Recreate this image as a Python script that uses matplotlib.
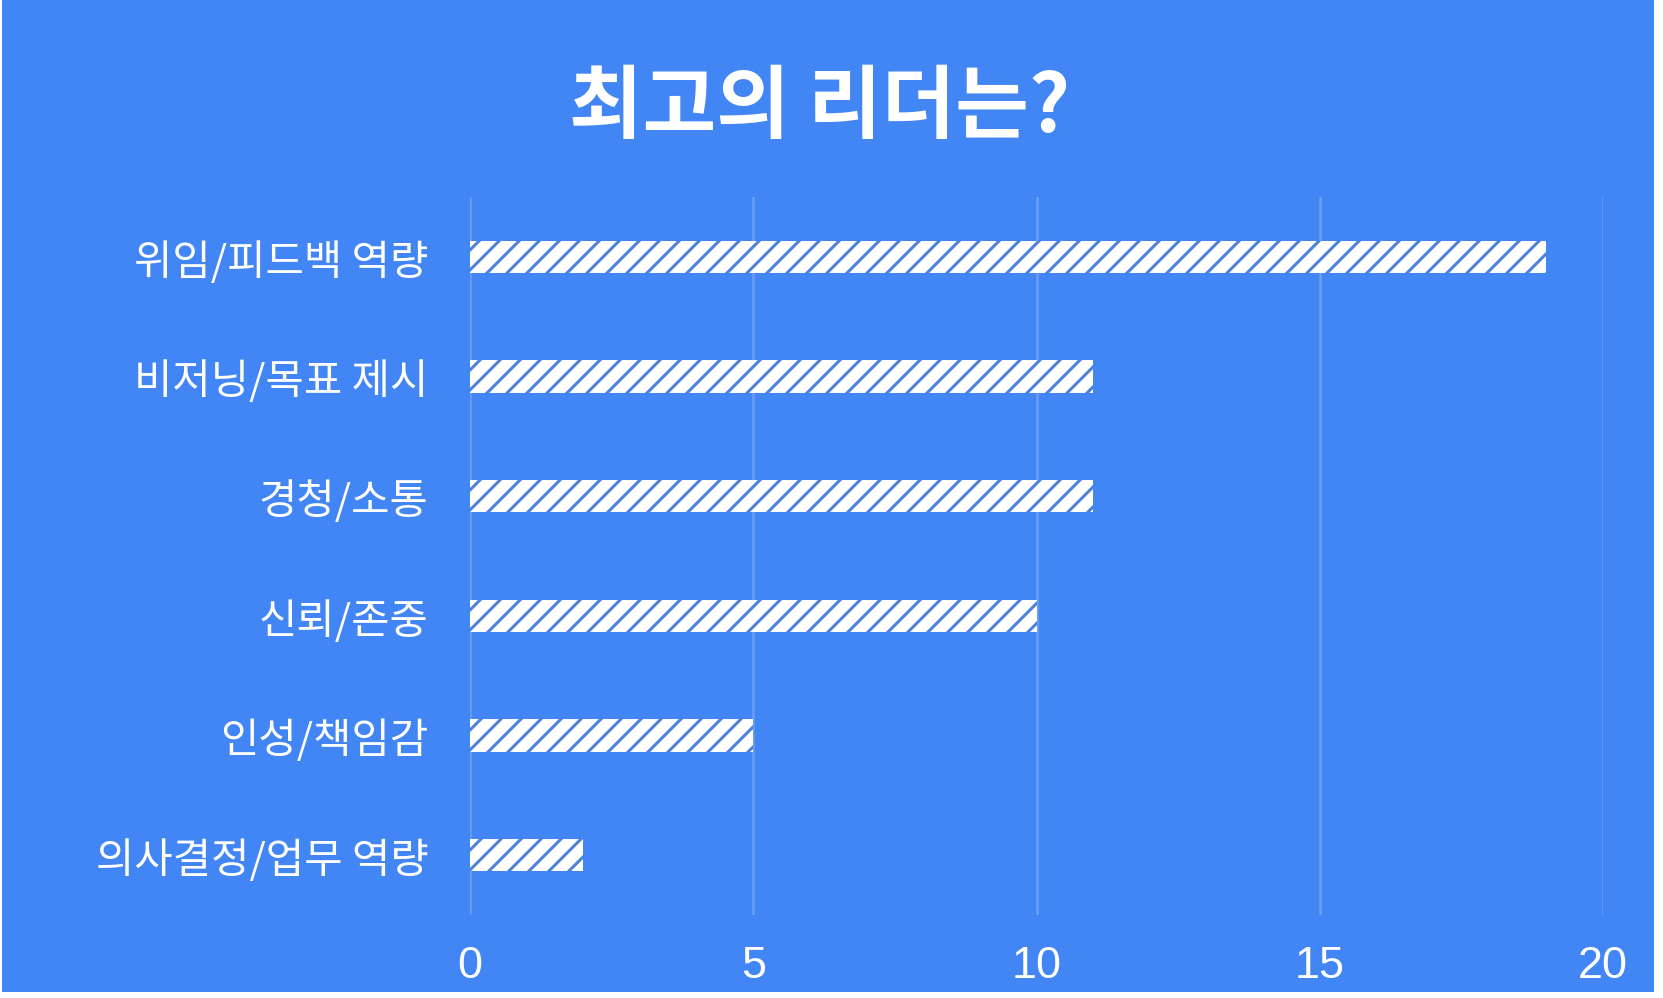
import matplotlib.pyplot as plt
from matplotlib.patches import Rectangle

categories = ['위임/피드백 역량', '비저닝/목표 제시', '경청/소통', '신뢰/존중', '인성/책임감', '의사결정/업무 역량']
values = [19, 11, 11, 10, 5, 2]
x_ticks = [0, 5, 10, 15, 20]

BG = '#4285f4'
DPI = 120

plt.rcParams['hatch.linewidth'] = 1.8
plt.rcParams['font.family'] = ['Noto Sans CJK KR', 'DejaVu Sans']

fig = plt.figure(figsize=(1663 / DPI, 999 / DPI), dpi=DPI, facecolor='white')
# blue card with a thin white edge right/bottom, like the screenshot
fig.patches.append(Rectangle((1.5 / 1663, 6 / 999), 1652.5 / 1663, 993 / 999,
                             transform=fig.transFigure, facecolor=BG, edgecolor='none', zorder=-10))

ax = fig.add_axes([470 / 1663, 83 / 999, 1133 / 1663, 718 / 999])
ax.set_facecolor('none')

ypos = list(range(len(categories)))
ax.barh(ypos, values, height=0.27, color='white', edgecolor='#4d80dc',
        linewidth=0, hatch='//', zorder=3)

ax.set_xlim(0, 20)
ax.set_ylim(len(categories) - 0.5, -0.5)
ax.set_xticks(x_ticks)
ax.set_xticklabels([str(t) for t in x_ticks], fontfamily='Liberation Sans', fontsize=27, color='white')
ax.set_yticks(ypos)
ax.set_yticklabels(categories, fontsize=25, color='white')
ax.tick_params(axis='x', length=0, pad=18)
ax.tick_params(axis='y', length=0, pad=25)
ax.grid(axis='x', color='#6c9ef6', linewidth=1.5, zorder=1)
ax.set_axisbelow(True)
for s in ax.spines.values():
    s.set_visible(False)

fig.text(0.493, 0.891, '최고의 리더는?', ha='center', va='center',
         fontsize=48, fontweight='bold', color='white')

fig.savefig('out.png', dpi=DPI, facecolor=fig.get_facecolor())
